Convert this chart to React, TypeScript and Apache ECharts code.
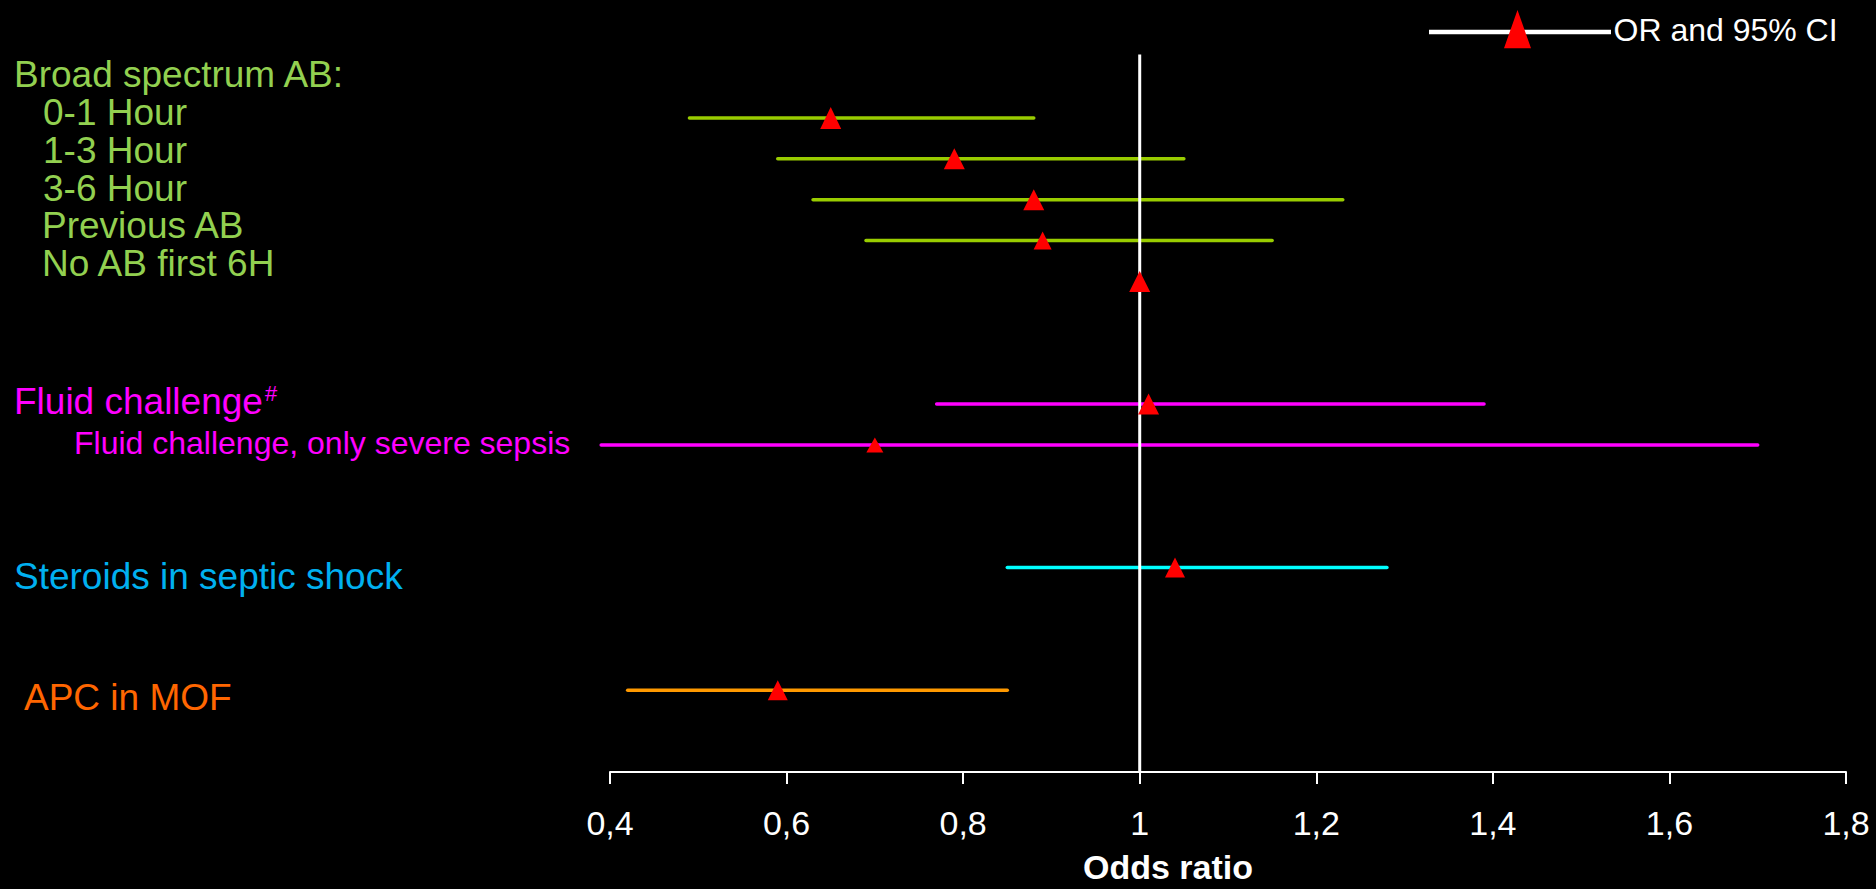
import React, { useEffect, useRef } from "react";
import * as echarts from "echarts";

// ---- data ----
const rowLabels = [
  "0-1 Hour",
  "1-3 Hour",
  "3-6 Hour",
  "Previous AB",
  "No AB first 6H",
  "Fluid challenge",
  "Fluid challenge, only severe sepsis",
  "Steroids in septic shock",
  "APC in MOF",
];
const rowPositions = [0, 1, 2, 3, 4, 7, 8, 11, 14];
const oddsRatios = [0.65, 0.79, 0.88, 0.89, 1.0, 1.01, 0.7, 1.04, 0.59];
const ciLower = [0.49, 0.59, 0.63, 0.69, null, 0.77, 0.39, 0.85, 0.42];
const ciUpper = [0.88, 1.05, 1.23, 1.15, null, 1.39, 1.7, 1.28, 0.85];
const xTicks = [0.4, 0.6, 0.8, 1.0, 1.2, 1.4, 1.6, 1.8];
const referenceOR = 1;

// ---- styles ----
const GREEN_TXT = "#92D050";
const GREEN_BAR = "#99CC00";
const MAGENTA = "#FF00FF";
const CYAN = "#00FFFF";
const BLUE_TXT = "#00B0F0";
const ORANGE_BAR = "#FF9900";
const ORANGE_TXT = "#FF6600";
const barColors = [GREEN_BAR, GREEN_BAR, GREEN_BAR, GREEN_BAR, GREEN_BAR, MAGENTA, MAGENTA, CYAN, ORANGE_BAR];
const markerSizes = [[21, 22], [21, 21], [21, 21], [18, 18], [21, 21], [21, 21], [17, 15], [20, 20], [20, 20]];
const FONT = "Liberation Sans, Arial, sans-serif";

export default function App() {
  const ref = useRef<HTMLDivElement>(null);

  useEffect(() => {
    document.body.style.margin = "0";
    document.body.style.overflow = "hidden";
    document.body.style.background = "#000";
    const chart = echarts.init(ref.current!, null, { renderer: "svg" });

    const ciData: any[] = [];
    rowLabels.forEach((_, i) => {
      if (ciLower[i] != null && ciUpper[i] != null) {
        ciData.push([ciLower[i], ciUpper[i], rowPositions[i], i]);
      }
    });
    const orData = oddsRatios.map((v, i) => [v, rowPositions[i]]);

    const txt = (text: string, x: number, y: number, color: string, size = 37) => ({
      type: "text",
      x,
      y,
      style: { text, fill: color, font: `${size}px ${FONT}`, textVerticalAlign: "middle", textAlign: "left" },
      silent: true,
    });

    const option: any = {
      animation: false,
      backgroundColor: "#000000",
      grid: { left: 610, right: 30, top: 54.6, bottom: 112.7, containLabel: false },
      xAxis: {
        type: "value",
        min: 0.4,
        max: 1.8,
        interval: 0.2,
        position: "bottom",
        splitLine: { show: false },
        axisLine: { show: true, onZero: false, lineStyle: { color: "#FFFFFF", width: 2 } },
        axisTick: { show: true, length: 12, lineStyle: { color: "#FFFFFF", width: 2 } },
        axisLabel: {
          color: "#FFFFFF",
          fontSize: 34,
          fontFamily: FONT,
          margin: 34,
          showMinLabel: true,
          showMaxLabel: true,
          formatter: (v: number) => {
            const t = xTicks.find((k) => Math.abs(k - v) < 1e-6);
            const n = t != null ? t : v;
            return Number.isInteger(n) ? String(n) : n.toFixed(1).replace(".", ",");
          },
        },
        name: "Odds ratio",
        nameLocation: "middle",
        nameGap: 78,
        nameTextStyle: {
          color: "#FFFFFF",
          fontSize: 34,
          fontWeight: "bold",
          fontFamily: FONT,
          padding: [0, 120, 0, 0],
        },
      },
      yAxis: {
        type: "value",
        inverse: true,
        min: -1.55,
        max: 16,
        show: false,
      },
      series: [
        {
          type: "custom",
          name: "95% CI",
          data: ciData,
          encode: { x: [0, 1], y: 2 },
          z: 2,
          renderItem: (params: any, api: any) => {
            const lo = api.value(0);
            const hi = api.value(1);
            const y = api.value(2);
            const idx = api.value(3);
            const p1 = api.coord([lo, y]);
            const p2 = api.coord([hi, y]);
            return {
              type: "line",
              shape: { x1: p1[0], y1: p1[1], x2: p2[0], y2: p2[1] },
              style: { stroke: barColors[idx], lineWidth: 3.5, lineCap: "round" },
            };
          },
        },
        {
          type: "line",
          name: "reference",
          data: [[referenceOR, -1.55], [referenceOR, 16]],
          symbol: "none",
          lineStyle: { color: "#FFFFFF", width: 3 },
          z: 3,
          silent: true,
        },
        {
          type: "scatter",
          name: "OR",
          data: orData,
          symbol: "triangle",
          symbolSize: (_: any, p: any) => markerSizes[p.dataIndex],
          itemStyle: { color: "#FF0000", opacity: 1 },
          z: 4,
        },
      ],
      graphic: [
        txt("Broad spectrum AB:", 14, 74, GREEN_TXT),
        txt(rowLabels[0], 43, 112, GREEN_TXT),
        txt(rowLabels[1], 43, 150, GREEN_TXT),
        txt(rowLabels[2], 43, 188, GREEN_TXT),
        txt(rowLabels[3], 42, 225, GREEN_TXT),
        txt(rowLabels[4], 42, 263, GREEN_TXT),
        txt(rowLabels[5], 14, 401, MAGENTA),
        txt("#", 265, 393, MAGENTA, 22),
        txt(rowLabels[6], 74, 443, MAGENTA, 32),
        txt(rowLabels[7], 14, 576, BLUE_TXT),
        txt(rowLabels[8], 24, 697, ORANGE_TXT),
        {
          type: "line",
          shape: { x1: 1429, y1: 32, x2: 1611, y2: 32 },
          style: { stroke: "#FFFFFF", lineWidth: 4.5 },
          silent: true,
        },
        {
          type: "polygon",
          shape: { points: [[1504, 48.3], [1531, 48.3], [1517.5, 10]] },
          style: { fill: "#FF0000" },
          silent: true,
        },
        txt("OR and 95% CI", 1613.5, 30, "#FFFFFF", 32),
      ],
    };

    chart.setOption(option);
    return () => chart.dispose();
  }, []);

  return <div ref={ref} style={{ width: 1876, height: 889 }} />;
}
